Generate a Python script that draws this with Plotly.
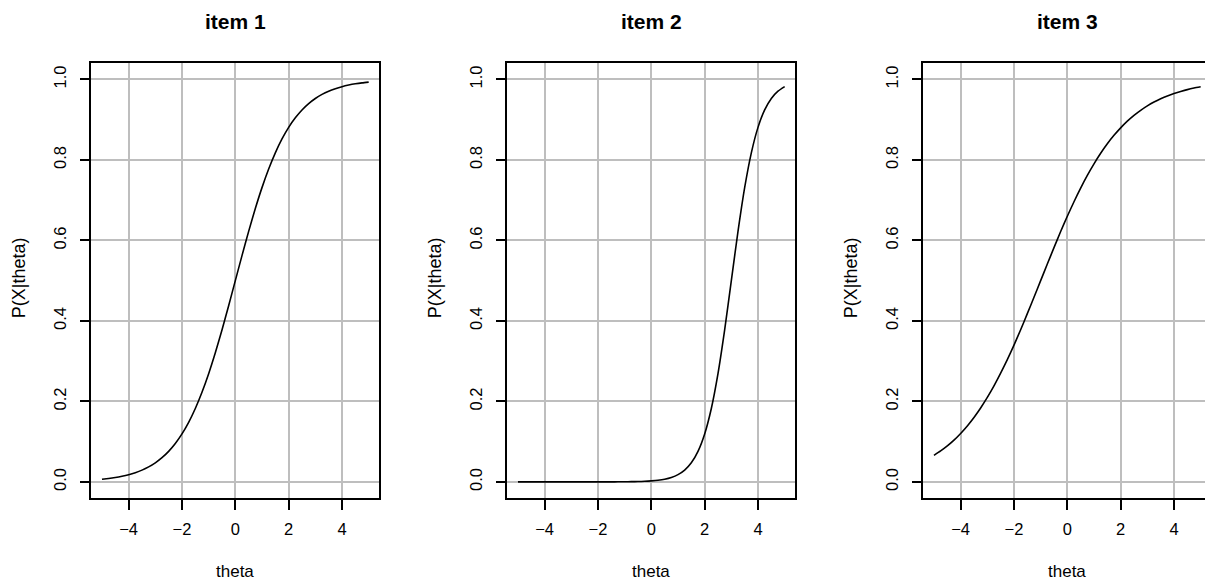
import plotly.graph_objects as go

# theta grid (read at 0.25 steps from the picture)
theta = [-5 + 0.25 * i for i in range(41)]

item1 = [0.0067, 0.0086, 0.0110, 0.0141, 0.0180, 0.0230, 0.0293, 0.0373, 0.0474, 0.0601,
         0.0759, 0.0954, 0.1192, 0.1480, 0.1824, 0.2227, 0.2689, 0.3208, 0.3775, 0.4378,
         0.5000, 0.5622, 0.6225, 0.6792, 0.7311, 0.7773, 0.8176, 0.8520, 0.8808, 0.9046,
         0.9241, 0.9399, 0.9526, 0.9627, 0.9707, 0.9770, 0.9820, 0.9859, 0.9890, 0.9914,
         0.9933]

item2 = [0.0000, 0.0000, 0.0000, 0.0000, 0.0000, 0.0000, 0.0000, 0.0000, 0.0000, 0.0000,
         0.0000, 0.0000, 0.0000, 0.0001, 0.0001, 0.0002, 0.0003, 0.0006, 0.0009, 0.0015,
         0.0025, 0.0041, 0.0067, 0.0110, 0.0180, 0.0293, 0.0474, 0.0759, 0.1192, 0.1824,
         0.2689, 0.3775, 0.5000, 0.6225, 0.7311, 0.8176, 0.8808, 0.9241, 0.9526, 0.9707,
         0.9820]

item3 = [0.0659, 0.0769, 0.0894, 0.1038, 0.1204, 0.1390, 0.1600, 0.1836, 0.2098, 0.2385,
         0.2700, 0.3039, 0.3400, 0.3780, 0.4180, 0.4587, 0.5000, 0.5413, 0.5820, 0.6220,
         0.6600, 0.6961, 0.7300, 0.7615, 0.7902, 0.8164, 0.8400, 0.8610, 0.8796, 0.8962,
         0.9106, 0.9231, 0.9341, 0.9437, 0.9518, 0.9589, 0.9650, 0.9700, 0.9746, 0.9784,
         0.9816]

titles = ["item 1", "item 2", "item 3"]
series = [item1, item2, item3]
x_ticks = [-4, -2, 0, 2, 4]
x_ticklabels = ["\u22124", "\u22122", "0", "2", "4"]
y_ticks = [0.0, 0.2, 0.4, 0.6, 0.8, 1.0]
y_ticklabels = ["0.0", "0.2", "0.4", "0.6", "0.8", "1.0"]

W, H = 1205, 581
FONT = "Liberation Sans, Arial, Helvetica, sans-serif"

# panel pixel geometry
px_per_unit = 26.67
lefts = [91.3, 507.3, 923.3]
top_px, bot_px = 63.3, 498.0

fig = go.Figure()
layout = dict(
    width=W, height=H, margin=dict(l=0, r=0, t=0, b=0),
    paper_bgcolor="white", plot_bgcolor="white", showlegend=False,
    font=dict(family=FONT, color="black", size=16.5),
)
annotations = []
for i, (ttl, ys) in enumerate(zip(titles, series)):
    n = "" if i == 0 else str(i + 1)
    left = lefts[i]
    right = min(left + 288.0, W)
    xmin = -5.4
    xmax = xmin + (right - left) / px_per_unit
    fig.add_trace(go.Scatter(x=theta, y=ys, mode="lines",
                             line=dict(color="black", width=1.6, shape="spline", smoothing=0.6),
                             xaxis="x" + n, yaxis="y" + n, hoverinfo="skip"))
    layout["xaxis" + n] = dict(
        domain=[left / W, right / W], range=[xmin, xmax], anchor="y" + n,
        tickvals=x_ticks, ticktext=x_ticklabels,
        ticks="outside", ticklen=10, tickwidth=1.6, tickcolor="black",
        showline=True, linecolor="black", linewidth=1.6, mirror=True,
        showgrid=True, gridcolor="#BEBEBE", gridwidth=1.5, zeroline=False,
        ticklabelstandoff=5, tickfont=dict(size=16.5),
    )
    layout["yaxis" + n] = dict(
        domain=[1 - bot_px / H, 1 - top_px / H], range=[-0.04, 1.04], anchor="x" + n,
        tickvals=y_ticks, ticktext=y_ticklabels, tickangle=-90,
        ticks="outside", ticklen=10, tickwidth=1.6, tickcolor="black",
        showline=True, linecolor="black", linewidth=1.6, mirror=(i < 2),
        showgrid=True, gridcolor="#BEBEBE", gridwidth=1.5, zeroline=False,
        ticklabelstandoff=7, tickfont=dict(size=16.5),
    )
    cx = (left + 288.0 / 2) / W
    annotations.append(dict(text="<b>" + ttl + "</b>", x=cx, y=1 - 22 / H, xref="paper", yref="paper",
                            showarrow=False, xanchor="center", yanchor="middle", font=dict(size=21)))
    annotations.append(dict(text="theta", x=cx, y=1 - 571.0 / H, xref="paper", yref="paper",
                            showarrow=False, xanchor="center", yanchor="middle", font=dict(size=17)))
    annotations.append(dict(text="P(X|theta)", x=(left - 72) / W, y=1 - 278.0 / H,
                            xref="paper", yref="paper", textangle=-90,
                            showarrow=False, xanchor="center", yanchor="middle", font=dict(size=18)))

layout["annotations"] = annotations
fig.update_layout(**layout)
fig.write_html("out.html", config={"displayModeBar": False},
               post_script="document.body.style.margin='0';document.body.style.overflow='hidden';")
